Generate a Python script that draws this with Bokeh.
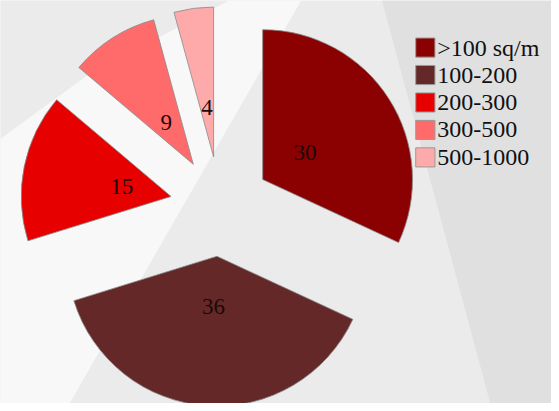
import math
from bokeh.plotting import figure
from bokeh.models import ColumnDataSource, Range1d
from bokeh.embed import file_html
from bokeh.resources import INLINE
from bokeh.core.properties import value

# ---- data ----
categories = [">100 sq/m", "100-200", "200-300", "300-500", "500-1000"]
values = [30, 36, 15, 9, 4]
colors = ["#8b0000", "#642828", "#e60000", "#ff6b6b", "#ffaaaa"]

# ---- layout / style (data units == reference pixels, y measured upward) ----
W, H = 551, 403
REF_W, REF_H = 559, 411
CX, CY = 223, REF_H - 210     # pie centre
RADIUS = 152
EXPLODE = 51
LABEL_DIST = 102
SERIF = "Liberation Serif"
LEG_SQ_X, LEG_TOP, LEG_STEP, LEG_SQ = 431, 48, 28, 19.5
LEG_TXT_X = 443

# decorative background (reference pixel space: x, y-from-top)
bg_polys = [
    ([0, 232, 90, 0], [0, 0, 75, 141], "#ebebeb"),
    ([0, 90, 232, 305, 70, 0], [141, 75, 0, 0, 411, 411], "#f8f8f8"),
    ([387, 559, 559, 497], [0, 0, 411, 411], "#e0e0e0"),
]

p = figure(width=W, height=H, x_range=Range1d(0, REF_W), y_range=Range1d(0, REF_H),
           output_backend="svg", toolbar_location=None, min_border=0,
           x_axis_location=None, y_axis_location=None)
p.outline_line_color = None
p.grid.grid_line_color = None
p.background_fill_color = "#ebebeb"
p.border_fill_color = "#ebebeb"

p.patches(xs=[b[0] for b in bg_polys],
          ys=[[REF_H - y for y in b[1]] for b in bg_polys],
          fill_color=[b[2] for b in bg_polys], line_color=None)

total = sum(values)
xs, ys, starts, ends, lx, ly = [], [], [], [], [], []
cum = 0
for v in values:
    a0 = math.pi / 2 - 2 * math.pi * cum / total
    a1 = math.pi / 2 - 2 * math.pi * (cum + v) / total
    mid = (a0 + a1) / 2
    xs.append(CX + EXPLODE * math.cos(mid))
    ys.append(CY + EXPLODE * math.sin(mid))
    lx.append(CX + LABEL_DIST * math.cos(mid))
    ly.append(CY + LABEL_DIST * math.sin(mid))
    starts.append(a0)
    ends.append(a1)
    cum += v

src = ColumnDataSource(dict(x=xs, y=ys, start=starts, end=ends, color=colors,
                            lx=lx, ly=ly, txt=[str(v) for v in values]))

p.wedge(x="x", y="y", radius=RADIUS, start_angle="start", end_angle="end",
        direction="clock", fill_color="color", line_color="#8a8a8a",
        line_width=1, line_alpha=0.8, source=src)

p.text(x="lx", y="ly", text="txt", source=src, text_align="center",
       text_baseline="middle", text_font=value(SERIF), text_font_size="23px",
       text_color="#1a0a0a")

# legend
leg_y = [REF_H - (LEG_TOP + LEG_STEP * i) for i in range(len(categories))]
leg = ColumnDataSource(dict(x=[LEG_SQ_X] * len(categories), tx=[LEG_TXT_X] * len(categories),
                            y=leg_y, color=colors, label=categories))
p.rect(x="x", y="y", width=LEG_SQ, height=LEG_SQ, fill_color="color",
       line_color="#9a9a9a", line_width=1, source=leg)
p.text(x="tx", y="y", text="label", source=leg, text_align="left",
       text_baseline="middle", text_font=value(SERIF), text_font_size="24px",
       text_color="#111111")

open("out.html", "w").write(file_html(p, INLINE))
